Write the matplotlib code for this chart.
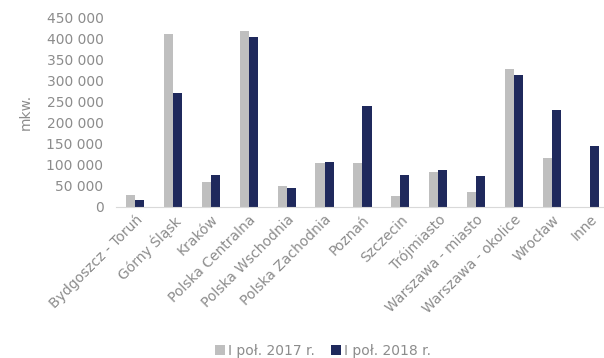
import matplotlib
matplotlib.use("Agg")
from matplotlib import pyplot as plt
import numpy as np

categories = ["Bydgoszcz - Toruń", "Górny Śląsk", "Kraków", "Polska Centralna",
              "Polska Wschodnia", "Polska Zachodnia", "Poznań", "Szczecin",
              "Trójmiasto", "Warszawa - miasto", "Warszawa - okolice", "Wrocław", "Inne"]
h1_2017 = [29000, 412000, 60000, 420000, 50000, 105000, 105000, 26000, 83000, 34500, 329000, 117000, 0]
h1_2018 = [17000, 271000, 76000, 405000, 45000, 108000, 240000, 77000, 88000, 73000, 313000, 230000, 144000]
yticks = list(range(0, 450001, 50000))

plt.rcParams['font.family'] = ['DejaVu Sans']
txt = '#8c8c8c'

fig = plt.figure(figsize=(6.04, 3.58), dpi=100)
ax = fig.add_axes([0.192, 0.422, 0.808, 0.528])

x = np.arange(len(categories))
w = 0.24
ax.bar(x - w/2, h1_2017, w, color='#bfbfbf', label='I poł. 2017 r.')
ax.bar(x + w/2, h1_2018, w, color='#1f295c', label='I poł. 2018 r.')

ax.set_xlim(-0.5, 12.37)
ax.set_ylim(0, 450000)
ax.set_yticks(yticks)
ax.set_yticklabels([f"{v:,}".replace(",", " ") for v in yticks])
ax.set_xticks(x)
ax.set_xticklabels(categories, rotation=45, ha='right', rotation_mode='anchor')
ax.tick_params(axis='y', length=0, pad=9, labelsize=10, labelcolor=txt)
ax.tick_params(axis='x', length=0, pad=4, labelsize=10, labelcolor=txt)
for s in ['top', 'right', 'left']:
    ax.spines[s].set_visible(False)
ax.spines['bottom'].set_color('#d9d9d9')
ax.set_ylabel('mkw.', color=txt, fontsize=10, labelpad=10)

fig.legend(loc='lower center', bbox_to_anchor=(0.535, -0.035), ncol=2, frameon=False,
           fontsize=10, labelcolor=txt, handlelength=0.7, handleheight=0.7,
           handletextpad=0.2, columnspacing=1.2)

fig.savefig('out.png', dpi=100)
